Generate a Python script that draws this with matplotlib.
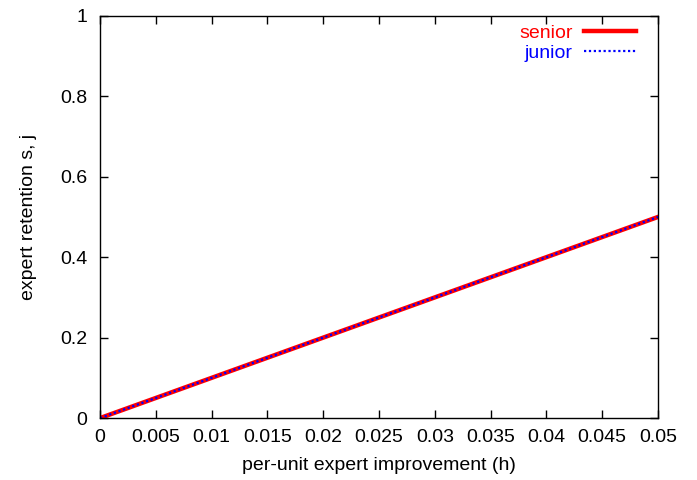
import matplotlib
matplotlib.use("Agg")
import matplotlib.pyplot as plt

plt.rcParams['font.family'] = ['Liberation Sans', 'DejaVu Sans']

# retention vs per-unit improvement
h = [0.0, 0.05]
senior = [0.0, 0.5]
junior = [0.0, 0.5]

xticks = [0, 0.005, 0.01, 0.015, 0.02, 0.025, 0.03, 0.035, 0.04, 0.045, 0.05]
xticklabels = ['0', '0.005', '0.01', '0.015', '0.02', '0.025', '0.03', '0.035', '0.04', '0.045', '0.05']
yticks = [0, 0.2, 0.4, 0.6, 0.8, 1]
yticklabels = ['0', '0.2', '0.4', '0.6', '0.8', '1']

fs = 14

fig = plt.figure(figsize=(6.97, 4.8), dpi=100)
ax = fig.add_axes([0.1435, 0.129, 0.8005, 0.838])

ax.plot(h, senior, color='#ff0000', linewidth=3.2, label='senior')
ax.plot(h, junior, color='#0000ff', linewidth=1.6, linestyle=(0, (1, 1.2)), label='junior')

ax.set_xlim(0, 0.05)
ax.set_ylim(0, 1)
ax.set_xticks(xticks)
ax.set_xticklabels(xticklabels)
ax.set_yticks(yticks)
ax.set_yticklabels(yticklabels)
ax.tick_params(direction='in', top=True, right=True, length=6, width=1,
               labelsize=fs)
ax.tick_params(axis='x', pad=8)
ax.tick_params(axis='y', pad=9)
for s in ax.spines.values():
    s.set_linewidth(1)

ax.set_xlabel('per-unit expert improvement (h)', fontsize=fs, labelpad=8)
ax.set_ylabel('expert retention s, j', fontsize=fs, labelpad=17)

leg = ax.legend(loc='upper right', bbox_to_anchor=(0.975, 0.999), borderaxespad=0,
                frameon=False, markerfirst=False, labelcolor='linecolor',
                fontsize=fs, handlelength=2.7, handletextpad=0.57,
                labelspacing=0.15)

fig.savefig('out.png', dpi=100)
